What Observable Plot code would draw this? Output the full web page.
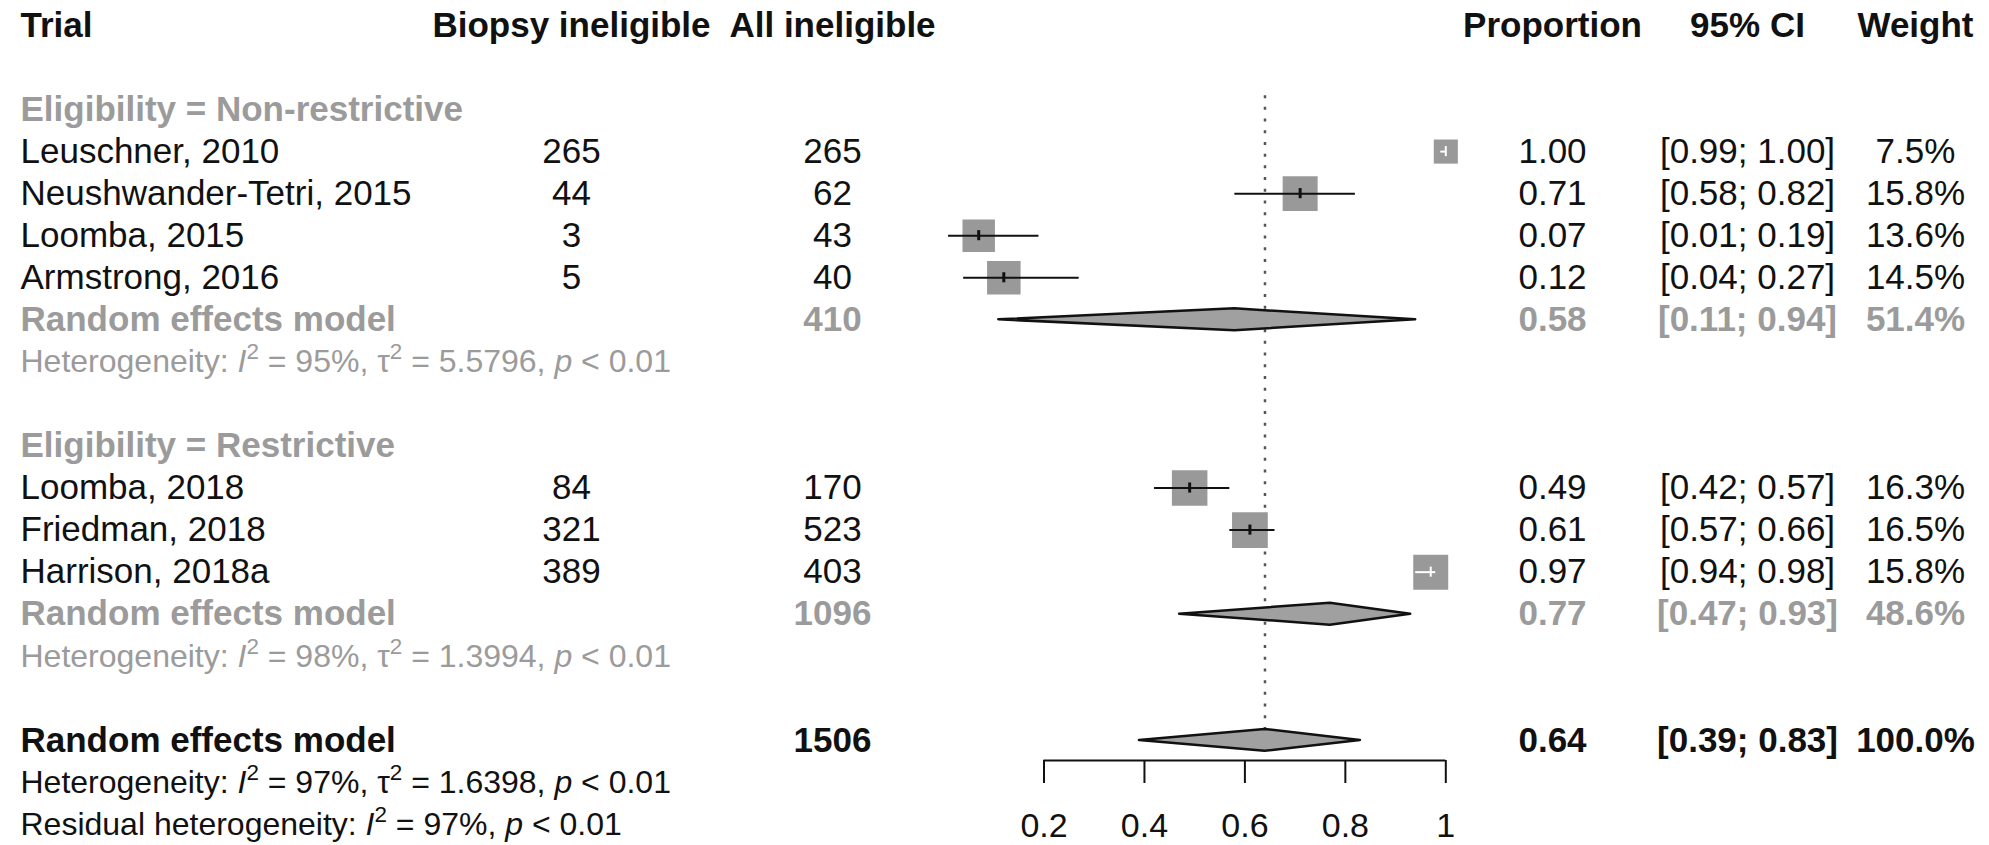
<!DOCTYPE html>
<html>
<head>
<meta charset="utf-8">
<script src="https://cdn.jsdelivr.net/npm/d3@7"></script>
<script src="https://cdn.jsdelivr.net/npm/@observablehq/plot@0.6"></script>
<style>
  html, body { margin: 0; padding: 0; background: #fff; overflow: hidden; }
  #chart svg { display: block; }
</style>
</head>
<body>
<div id="chart"></div>
<script>
// ---------------- DATA ----------------
const headerLabels = ["Trial", "Biopsy ineligible", "All ineligible", "Proportion", "95% CI", "Weight"];
const groupVariable = "Eligibility";
const groups = ["Non-restrictive", "Restrictive"];

const studies = ["Leuschner, 2010", "Neushwander-Tetri, 2015", "Loomba, 2015", "Armstrong, 2016",
                 "Loomba, 2018", "Friedman, 2018", "Harrison, 2018a"];
const studyGroup = ["Non-restrictive", "Non-restrictive", "Non-restrictive", "Non-restrictive",
                    "Restrictive", "Restrictive", "Restrictive"];
const biopsyIneligible = [265, 44, 3, 5, 84, 321, 389];
const allIneligible = [265, 62, 43, 40, 170, 523, 403];
const proportion = [1.00, 0.71, 0.07, 0.12, 0.49, 0.61, 0.97];
const ciLower = [0.99, 0.58, 0.01, 0.04, 0.42, 0.57, 0.94];
const ciUpper = [1.00, 0.82, 0.19, 0.27, 0.57, 0.66, 0.98];
const weight = [7.5, 15.8, 13.6, 14.5, 16.3, 16.5, 15.8];

const modelLabel = "Random effects model";
const groupTotal = [410, 1096];
const groupEst = [0.58, 0.77];
const groupLower = [0.11, 0.47];
const groupUpper = [0.94, 0.93];
const groupWeight = [51.4, 48.6];
const groupI2 = ["95%", "98%"];
const groupTau2 = ["5.5796", "1.3994"];
const groupP = ["< 0.01", "< 0.01"];

const overallTotal = 1506;
const overallEst = 0.64;
const overallLower = 0.39;
const overallUpper = 0.83;
const overallWeight = 100.0;
const overallI2 = "97%";
const overallTau2 = "1.6398";
const overallP = "< 0.01";
const residualI2 = "97%";
const residualP = "< 0.01";

const xTicks = [0.2, 0.4, 0.6, 0.8, 1];

// ---------------- LAYOUT / STYLE ----------------
const W = 1989, H = 845;
const FONT = '"Liberation Sans", Arial, Helvetica, sans-serif';
const BLACK = "#111111";
const GRAY = "#9b9b9b";
const FS = 35, FS_HET = 32, FS_AXIS = 34;
const COL = {label: 20, biopsy: 571, all: 832, prop: 1552, ci: 1747, weight: 1915};
const ANCHOR = {label: "start", biopsy: "middle", all: "middle", prop: "middle", ci: "middle", weight: "middle"};
const xDomain = [0.2, 1], xRange = [1043.5, 1445.3];
const yDomain = [-2, 17], yRange = [24.9, 824];
const axisPx = 760;
const rowStep = (yRange[1] - yRange[0]) / (yDomain[1] - yDomain[0]);
const axisRow = yDomain[0] + (axisPx - yRange[0]) / rowStep;
const pxPerUnit = (xRange[1] - xRange[0]) / (xDomain[1] - xDomain[0]);
const rDomain = [0, 16], rRange = [0, 19.86];
const sideOf = w => rRange[1] * Math.sqrt(w / rDomain[1]) * Math.sqrt(Math.PI);
const diamondHalf = 0.26;

// ---------------- TABLE BUILD ----------------
const fmt2 = d3.format(".2f");
const fmtW = w => d3.format(".1f")(w) + "%";
const ciText = (l, u) => `[${fmt2(l)}; ${fmt2(u)}]`;
const hetText = (i2, tau2, p) => `Heterogeneity: *I*^2^ = ${i2}, τ^2^ = ${tau2}, *p* ${p}`;

const rows = [];
const studyRows = [];
const pooledRows = [];
rows.push({k: -2, style: "header", label: headerLabels[0], biopsy: headerLabels[1], all: headerLabels[2],
           prop: headerLabels[3], ci: headerLabels[4], weight: headerLabels[5]});
let k = 0;
groups.forEach((g, gi) => {
  rows.push({k, style: "group", label: `${groupVariable} = ${g}`});
  k++;
  studies.forEach((s, i) => {
    if (studyGroup[i] !== g) return;
    rows.push({k, style: "study", label: s, biopsy: String(biopsyIneligible[i]), all: String(allIneligible[i]),
               prop: fmt2(proportion[i]), ci: ciText(ciLower[i], ciUpper[i]), weight: fmtW(weight[i])});
    const half = sideOf(weight[i]) / 2 / pxPerUnit;
    studyRows.push({k, est: proportion[i], lower: ciLower[i], upper: ciUpper[i], w: weight[i],
                    inside: ciLower[i] >= proportion[i] - half && ciUpper[i] <= proportion[i] + half});
    k++;
  });
  rows.push({k, style: "pooled", label: modelLabel, all: String(groupTotal[gi]), prop: fmt2(groupEst[gi]),
             ci: ciText(groupLower[gi], groupUpper[gi]), weight: fmtW(groupWeight[gi])});
  pooledRows.push({k, est: groupEst[gi], lower: groupLower[gi], upper: groupUpper[gi]});
  k++;
  rows.push({k, style: "het", label: hetText(groupI2[gi], groupTau2[gi], groupP[gi])});
  k += 2;
});
const overallRow = k;
rows.push({k, style: "overall", label: modelLabel, all: String(overallTotal), prop: fmt2(overallEst),
           ci: ciText(overallLower, overallUpper), weight: fmtW(overallWeight)});
pooledRows.push({k, est: overallEst, lower: overallLower, upper: overallUpper});
k++;
rows.push({k, style: "overallHet", label: hetText(overallI2, overallTau2, overallP)});
k++;
rows.push({k, style: "overallHet", label: `Residual heterogeneity: *I*^2^ = ${residualI2}, *p* ${residualP}`});

// diamond vertices (area: baseline y1, top y2)
const diamondPts = [];
pooledRows.forEach((d, i) => {
  diamondPts.push({id: i, x: d.lower, y1: d.k, y2: d.k});
  diamondPts.push({id: i, x: d.est, y1: d.k + diamondHalf, y2: d.k - diamondHalf});
  diamondPts.push({id: i, x: d.upper, y1: d.k, y2: d.k});
});

// ---------------- TEXT MARKS ----------------
const STYLES = {
  header:     {fontWeight: "bold",   fill: BLACK, fontSize: FS},
  group:      {fontWeight: "bold",   fill: GRAY,  fontSize: FS},
  study:      {fontWeight: "normal", fill: BLACK, fontSize: FS},
  pooled:     {fontWeight: "bold",   fill: GRAY,  fontSize: FS},
  het:        {fontWeight: "normal", fill: GRAY,  fontSize: FS_HET},
  overall:    {fontWeight: "bold",   fill: BLACK, fontSize: FS},
  overallHet: {fontWeight: "normal", fill: BLACK, fontSize: FS_HET}
};
const textMarks = [];
for (const [style, st] of Object.entries(STYLES)) {
  for (const col of Object.keys(COL)) {
    const data = rows.filter(r => r.style === style && r[col] != null);
    if (!data.length) continue;
    const isHet = style === "het" || style === "overallHet";
    textMarks.push(Plot.text(data, {
      y: "k", text: col, frameAnchor: "left", dx: COL[col], textAnchor: ANCHOR[col],
      fontFamily: FONT, fontSize: st.fontSize, fontWeight: st.fontWeight, fill: st.fill,
      className: isHet ? "hetline" : undefined, ariaLabel: isHet ? "hetline" : "text"
    }));
  }
}

// ---------------- PLOT ----------------
const chart = Plot.plot({
  width: W, height: H,
  marginTop: 0, marginLeft: 0, marginRight: 0, marginBottom: H - axisPx,
  style: {background: "#fff", fontFamily: FONT, color: BLACK},
  x: {domain: xDomain, range: xRange},
  y: {domain: yDomain, range: yRange, axis: null},
  r: {type: "sqrt", domain: rDomain, range: rRange},
  marks: [
    // overall reference (dotted)
    Plot.ruleX([overallEst], {x: d => d, y1: -0.33, y2: overallRow, stroke: "#555", strokeWidth: 2.5,
                              strokeDasharray: "3,8.7"}),
    // squares
    Plot.dot(studyRows, {x: "est", y: "k", r: "w", symbol: "square", fill: "#999999", stroke: "none"}),
    // confidence intervals
    Plot.ruleY(studyRows.filter(d => !d.inside), {y: "k", x1: "lower", x2: "upper", stroke: BLACK, strokeWidth: 2}),
    Plot.ruleY(studyRows.filter(d => d.inside), {y: "k", x1: "lower", x2: "upper", stroke: "white", strokeWidth: 2}),
    // point estimate marks
    Plot.ruleX(studyRows.filter(d => !d.inside), {x: "est", y1: d => d.k - 0.12, y2: d => d.k + 0.12, stroke: BLACK, strokeWidth: 3}),
    Plot.ruleX(studyRows.filter(d => d.inside), {x: "est", y1: d => d.k - 0.12, y2: d => d.k + 0.12, stroke: "white", strokeWidth: 2}),
    // diamonds
    Plot.areaY(diamondPts, {x: "x", y1: "y1", y2: "y2", z: "id", fill: "#a0a0a0", stroke: BLACK,
                            strokeWidth: 2.5, strokeLinejoin: "round"}),
    // axis
    Plot.ruleY([axisRow], {y: d => d, x1: xDomain[0], x2: xDomain[1], stroke: BLACK, strokeWidth: 2}),
    Plot.axisX(xTicks, {anchor: "bottom", tickSize: 23, tickPadding: 29, tickFormat: d3.format("~g"),
                        fontSize: FS_AXIS, fontFamily: FONT, strokeWidth: 2, label: null}),
    ...textMarks
  ]
});

document.getElementById("chart").append(chart);

// rich text for heterogeneity lines: *italic* and ^superscript^
const SUP = 13;
chart.querySelectorAll('g.hetline text, g[aria-label="hetline"] text').forEach(t => {
  if (t.dataset.done) return;
  t.dataset.done = "1";
  const s = t.textContent;
  t.textContent = "";
  const parts = s.split(/(\*[^*]+\*|\^[^^]+\^)/).filter(p => p);
  let shift = 0;
  for (const p of parts) {
    const ts = document.createElementNS("http://www.w3.org/2000/svg", "tspan");
    if (p.startsWith("^")) {
      ts.textContent = p.slice(1, -1);
      ts.setAttribute("font-size", "70%");
      ts.setAttribute("dy", -SUP);
      shift = SUP;
    } else {
      if (p.startsWith("*")) { ts.textContent = p.slice(1, -1); ts.setAttribute("font-style", "italic"); }
      else ts.textContent = p;
      if (shift) { ts.setAttribute("dy", shift); shift = 0; }
    }
    t.appendChild(ts);
  }
});
</script>
</body>
</html>
